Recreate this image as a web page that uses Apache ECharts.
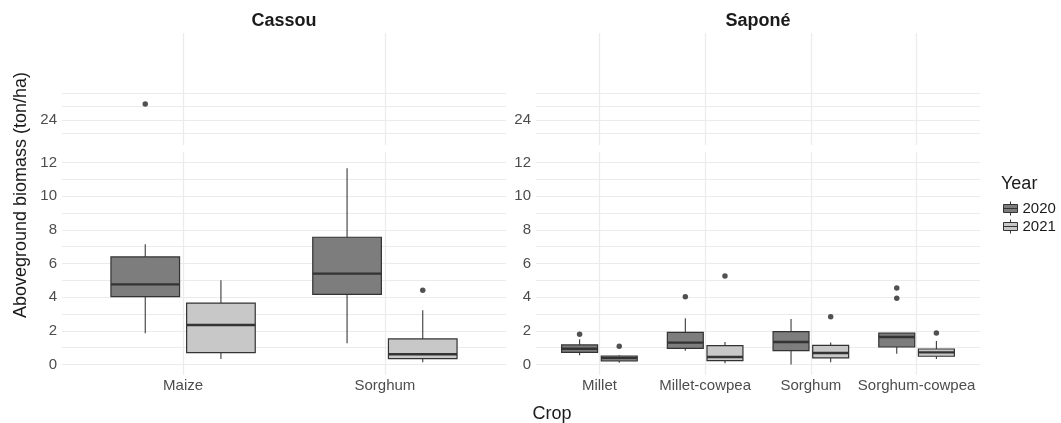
<!DOCTYPE html>
<html><head><meta charset="utf-8">
<script src="https://cdn.jsdelivr.net/npm/echarts@6/dist/echarts.min.js"></script>
<style>html,body{margin:0;padding:0;background:#fff}#c{width:1061px;height:423px}</style>
</head><body><div id="c"></div>
<script>
// ---------- data ----------
const years = ['2020', '2021'];
const cassouCrops = ['Maize', 'Sorghum'];
const saponeCrops = ['Millet', 'Millet-cowpea', 'Sorghum', 'Sorghum-cowpea'];
// box stats: [lower whisker, Q1, median, Q3, upper whisker]
const cassou2020 = [[1.85, 4.03, 4.76, 6.39, 7.14], [1.26, 4.17, 5.40, 7.56, 11.66]];
const cassou2021 = [[0.33, 0.70, 2.35, 3.65, 5.00], [0.13, 0.35, 0.61, 1.52, 3.22]];
const sapone2020 = [[0.55, 0.72, 0.94, 1.16, 1.50], [0.82, 0.96, 1.30, 1.91, 2.75], [0.00, 0.82, 1.34, 1.95, 2.70], [0.64, 1.04, 1.63, 1.86, 1.86]];
const sapone2021 = [[0.11, 0.21, 0.37, 0.50, 0.55], [0.07, 0.23, 0.45, 1.12, 1.34], [0.13, 0.39, 0.68, 1.14, 1.30], [0.33, 0.49, 0.72, 0.92, 1.40]];
// outliers: [crop index, value]
const cassouOut2020 = [[0, 25.2]];
const cassouOut2021 = [[1, 4.41]];
const saponeOut2020 = [[0, 1.79], [1, 4.03], [3, 4.55], [3, 3.93]];
const saponeOut2021 = [[0, 1.08], [1, 5.26], [2, 2.84], [3, 1.87]];
// axis ticks
const lowerGridTicks = [0, 1, 2, 3, 4, 5, 6, 7, 8, 9, 10, 11, 12];
const lowerTickLabels = [0, 2, 4, 6, 8, 10, 12];
const upperGridTicks = [23, 24, 25, 26];
const upperTickLabels = [24];

// ---------- styling / layout ----------
const fills = {'2020': '#7d7d7d', '2021': '#c8c8c8'};
const dodge = 0.1875, halfBox = 0.17;
const gridColor = '#ebebeb';
const textGrey = '#4d4d4d';
const FONT = 'Liberation Sans, Arial, Helvetica, sans-serif';
const lowerRange = [-0.6, 12.6];
const upperRange = [22.125, 30.5];
const panelW = 444;
const panels = [
  {crops: cassouCrops, left: 62, stats: {'2020': cassou2020, '2021': cassou2021}, out: {'2020': cassouOut2020, '2021': cassouOut2021}},
  {crops: saponeCrops, left: 536, stats: {'2020': sapone2020, '2021': sapone2021}, out: {'2020': saponeOut2020, '2021': saponeOut2021}}
];

const grids = [], xAxes = [], yAxes = [], series = [];

function boxRender(offset) {
  return function (params, api) {
    const i = api.value(0) + offset;
    const mn = api.value(1), q1 = api.value(2), md = api.value(3), q3 = api.value(4), mx = api.value(5);
    const tl = api.coord([i - halfBox, q3]);
    const br = api.coord([i + halfBox, q1]);
    const top = api.coord([i, mx]);
    const bot = api.coord([i, mn]);
    const mL = api.coord([i - halfBox, md]);
    const mR = api.coord([i + halfBox, md]);
    const ls = {stroke: '#3a3a3a', lineWidth: 1.1};
    return {type: 'group', children: [
      {type: 'line', shape: {x1: top[0], y1: top[1], x2: top[0], y2: tl[1]}, style: ls},
      {type: 'line', shape: {x1: bot[0], y1: bot[1], x2: bot[0], y2: br[1]}, style: ls},
      {type: 'rect', shape: {x: tl[0], y: tl[1], width: br[0] - tl[0], height: br[1] - tl[1]},
        style: {fill: api.visual('color'), stroke: '#333333', lineWidth: 1.2}},
      {type: 'line', shape: {x1: mL[0], y1: mL[1], x2: mR[0], y2: mR[1]}, style: {stroke: '#333333', lineWidth: 2.4}}
    ]};
  };
}

panels.forEach((p, pi) => {
  const gUp = grids.length, gLo = grids.length + 1;
  grids.push({left: p.left, width: panelW, top: 33, height: 112});
  grids.push({left: p.left, width: panelW, top: 152.4, height: 222.2});
  const catIdx = p.crops.map((c, i) => i);
  [gUp, gLo].forEach(g => {
    const isLower = g === gLo;
    xAxes.push({
      type: 'value', gridIndex: g, min: -0.6, max: p.crops.length - 0.4,
      axisLine: {show: false},
      axisTick: {show: false, customValues: catIdx},
      axisLabel: {show: isLower, customValues: catIdx, margin: 4,
        formatter: v => p.crops[Math.round(v)], color: textGrey, fontSize: 15, fontFamily: FONT},
      splitLine: {show: true, lineStyle: {color: gridColor, width: 1.2}}
    });
    yAxes.push({
      type: 'value', gridIndex: g,
      min: isLower ? lowerRange[0] : upperRange[0],
      max: isLower ? lowerRange[1] : upperRange[1],
      axisLine: {show: false},
      axisTick: {show: false, customValues: isLower ? lowerGridTicks : upperGridTicks},
      axisLabel: {show: true, customValues: isLower ? lowerTickLabels : upperTickLabels, margin: 5,
        color: textGrey, fontSize: 15, fontFamily: FONT},
      splitLine: {show: true, lineStyle: {color: gridColor, width: 1.2}}
    });
  });
  years.forEach((yr, yi) => {
    const off = yi === 0 ? -dodge : dodge;
    series.push({
      type: 'custom', name: yr, xAxisIndex: gLo, yAxisIndex: gLo,
      itemStyle: {color: fills[yr]},
      renderItem: boxRender(off),
      encode: {x: 0, y: [1, 2, 3, 4, 5]},
      data: p.crops.map((c, i) => [i].concat(p.stats[yr][i]))
    });
    [gUp, gLo].forEach(g => {
      const isLower = g === gLo;
      const pts = p.out[yr]
        .filter(o => isLower ? o[1] <= lowerRange[1] : o[1] > lowerRange[1])
        .map(o => [o[0] + off, o[1]]);
      series.push({
        type: 'scatter', name: yr, xAxisIndex: g, yAxisIndex: g,
        symbolSize: 5.5, itemStyle: {color: '#262626'}, z: 5,
        data: pts
      });
    });
  });
});

const legendIcon = 'path://M7,0L7,3M0,3L14,3L14,11L0,11ZM0,7L14,7M7,11L7,14';

const option = {
  animation: false,
  backgroundColor: '#ffffff',
  grid: grids, xAxis: xAxes, yAxis: yAxes, series: series,
  legend: {
    orient: 'vertical', left: 998, top: 196, itemWidth: 14, itemHeight: 15, itemGap: 3,
    textStyle: {fontSize: 15, color: '#1a1a1a', fontFamily: FONT},
    data: years.map(yr => ({name: yr, icon: legendIcon,
      itemStyle: {color: fills[yr], borderColor: '#333333', borderWidth: 1}}))
  },
  graphic: [
    {type: 'text', x: 284, y: 21, style: {text: 'Cassou', font: 'bold 18px ' + FONT, fill: '#1a1a1a', align: 'center', verticalAlign: 'middle'}},
    {type: 'text', x: 758, y: 21, style: {text: 'Saponé', font: 'bold 18px ' + FONT, fill: '#1a1a1a', align: 'center', verticalAlign: 'middle'}},
    {type: 'text', x: 21, y: 195, rotation: Math.PI / 2, style: {text: 'Aboveground biomass (ton/ha)', font: '18px ' + FONT, fill: '#1a1a1a', align: 'center', verticalAlign: 'middle'}},
    {type: 'text', x: 552, y: 414, style: {text: 'Crop', font: '18px ' + FONT, fill: '#1a1a1a', align: 'center', verticalAlign: 'middle'}},
    {type: 'text', x: 1001, y: 184, style: {text: 'Year', font: '18px ' + FONT, fill: '#1a1a1a', align: 'left', verticalAlign: 'middle'}}
  ]
};

const chart = echarts.init(document.getElementById('c'), null, {renderer: 'canvas'});
chart.setOption(option);
</script>
</body></html>
